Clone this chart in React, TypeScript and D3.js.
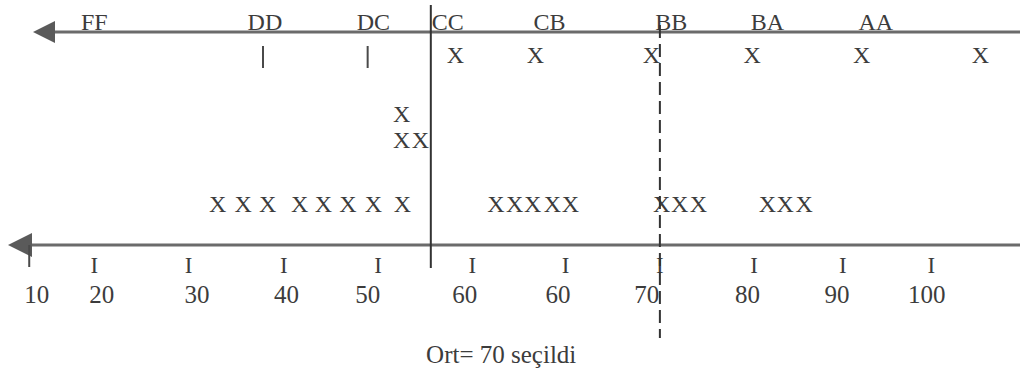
import React from "react";
import * as d3 from "d3";

// ---- data (positions along the number line, in line units) ----
const GRADES = ["FF", "DD", "DC", "CC", "CB", "BB", "BA", "AA"];
const GRADE_POS = [20.0, 38.1, 49.6, 57.5, 68.3, 81.2, 91.4, 102.9];

const TICK_LABELS = ["10", "20", "30", "40", "50", "60", "60", "70", "80", "90", "100"];
const TICK_POS = [13.1, 20.0, 30.0, 40.1, 50.1, 60.1, 70.0, 80.0, 90.0, 99.4, 108.8];
const LABEL_POS = [13.9, 20.8, 30.9, 40.4, 49.0, 59.3, 69.2, 78.6, 89.3, 98.8, 108.3];

const TOP_X = [58.3, 66.8, 79.1, 89.8, 101.4, 114.0];
const TOP_BARS = [37.9, 49.0];
const MID_UPPER_X = [52.6];
const MID_LOWER_X = [52.6, 54.6];
const BASE_X = [
  33.1, 35.8, 38.4, 41.8, 44.3, 46.9, 49.6, 52.7,
  62.6, 64.6, 66.5, 68.6, 70.5,
  80.2, 82.1, 84.1,
  91.4, 93.3, 95.3,
];
const SPLIT = 55.7;
const MEAN = 80.0;
const MEAN_LABEL = "Ort= 70 seçildi";
const MEAN_LABEL_POS = 55.2;

const W = 1020;
const H = 378;
const FONT = "'Liberation Serif', 'Times New Roman', serif";
const TEXT = "#3c3c3c";

export default function App() {
  const x = d3.scaleLinear().domain([10, 118.2]).range([0, W]);

  const yTopAxis = 32;
  const yBottomAxis = 245;

  const arrow = (tipX: number, backX: number, y: number, half: number) => {
    const p = d3.path();
    p.moveTo(tipX, y);
    p.lineTo(backX, y - half);
    p.lineTo(backX, y + half);
    p.closePath();
    return p.toString();
  };

  const xText = (v: number, y: number, key: string, size = 24) => (
    <text key={key} x={x(v)} y={y} textAnchor="middle" fontSize={size} fontFamily={FONT} fill={TEXT}>
      X
    </text>
  );

  return (
    <svg
      width={W}
      height={H}
      style={{ position: "absolute", left: 0, top: 0, display: "block", background: "#fff" }}
    >
      {/* top axis */}
      <line x1={55} x2={W} y1={yTopAxis} y2={yTopAxis} stroke="#6b6b6b" strokeWidth={3} />
      <path d={arrow(33, 55, yTopAxis, 11)} fill="#5a5a5a" />
      {GRADES.map((g, i) => (
        <text
          key={g}
          x={x(GRADE_POS[i])}
          y={30}
          textAnchor="middle"
          fontSize={24}
          fontFamily={FONT}
          fill={TEXT}
        >
          {g}
        </text>
      ))}

      {/* top row marks */}
      {TOP_BARS.map((v, i) => (
        <line key={"b" + i} x1={x(v)} x2={x(v)} y1={46} y2={68} stroke="#4a4a4a" strokeWidth={2} />
      ))}
      {TOP_X.map((v, i) => xText(v, 63, "t" + i))}

      {/* middle stack */}
      {MID_UPPER_X.map((v, i) => xText(v, 122, "mu" + i))}
      {MID_LOWER_X.map((v, i) => xText(v, 148, "ml" + i))}

      {/* base row */}
      {BASE_X.map((v, i) => xText(v, 212, "bx" + i))}

      {/* bottom axis */}
      <line x1={30} x2={W} y1={yBottomAxis} y2={yBottomAxis} stroke="#6b6b6b" strokeWidth={3} />
      <path d={arrow(8, 32, yBottomAxis, 12)} fill="#5a5a5a" />
      {TICK_POS.map((v, i) =>
        i === 0 ? (
          <line key={"tk" + i} x1={x(v)} x2={x(v)} y1={yBottomAxis} y2={267} stroke="#4a4a4a" strokeWidth={2} />
        ) : (
          <text key={"tk" + i} x={x(v)} y={273} textAnchor="middle" fontSize={23} fontFamily={FONT} fill={TEXT}>
            I
          </text>
        )
      )}
      {TICK_LABELS.map((l, i) => (
        <text
          key={"lb" + i}
          x={x(LABEL_POS[i])}
          y={303}
          textAnchor="middle"
          fontSize={25}
          fontFamily={FONT}
          fill={TEXT}
        >
          {l}
        </text>
      ))}

      {/* split line */}
      <line x1={x(SPLIT)} x2={x(SPLIT)} y1={5} y2={268} stroke="#333" strokeWidth={2} />

      {/* mean dashed line */}
      <line
        x1={x(MEAN)}
        x2={x(MEAN)}
        y1={25}
        y2={338}
        stroke="#333"
        strokeWidth={2}
        strokeDasharray="13,6"
      />

      <text x={x(MEAN_LABEL_POS)} y={363} fontSize={25} fontFamily={FONT} fill={TEXT}>
        {MEAN_LABEL}
      </text>
    </svg>
  );
}
